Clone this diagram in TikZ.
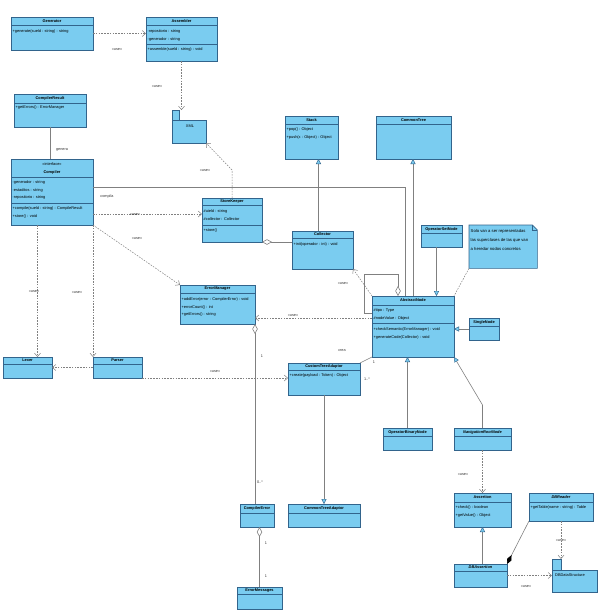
\documentclass[tikz,border=0pt]{standalone}
\usepackage{fontspec}
\setmainfont{Liberation Sans}
\usetikzlibrary{arrows.meta,calc}

\definecolor{boxfill}{RGB}{122,204,240}
\definecolor{boxborder}{RGB}{50,100,140}
\definecolor{linegray}{RGB}{128,128,128}

\tikzset{
	umlbox/.style={draw=boxborder, fill=boxfill, line width=0.6pt, inner sep=0pt, outer sep=0pt},
	boxline/.style={draw=boxborder, line width=0.5pt},
	umltitle/.style={font=\fontsize{3.9}{8}\selectfont\bfseries, align=center, inner sep=0pt},
	members/.style={font=\fontsize{3.9}{7.8}\selectfont, align=left, inner sep=0pt, anchor=north west},
	lbl/.style={font=\fontsize{3.8}{4.5}\selectfont, inner sep=0pt, text=black!80},
	assoc/.style={draw=linegray, line width=0.6pt},
	use/.style={draw=linegray, line width=0.5pt, dash pattern=on 1.6pt off 1.2pt, -{Straight Barb[length=3.5pt,width=6pt]}},
	inherit/.style={assoc, -{Triangle[length=5pt,width=5pt,fill=boxfill,color=boxborder,line width=0.4pt]}},
	aggr/.style={assoc, -{Diamond[length=10pt,width=5.5pt,fill=white,color=linegray]}},
	compos/.style={assoc, -{Diamond[length=10pt,width=4.5pt,fill=black,color=black]}},
	notelink/.style={draw=linegray, line width=0.5pt, dash pattern=on 1.6pt off 1.2pt}
}

% class box: name, x1, y1, x2, y2, header bottom, title
\newcommand{\umlclass}[7]{%
	\node[umlbox, anchor=north west, minimum width={#4-#2}, minimum height={#5-#3}] (#1) at (#2,#3) {};
	\draw[boxline] (#2,#6) -- (#4,#6);
	\node[umltitle] (#1-t) at ({(#2+#4)/2},{(#3+#6)/2}) {#7};
}

\begin{document}
\begin{tikzpicture}[x=1pt, y=-1pt]
	\useasboundingbox (0,0) rectangle (606,616);

	% classes
	\umlclass{gen}{11}{17}{93}{50}{25}{Generator}
	\node[members] (gen-m) at (12.5,29.3) {+generate(sueld : string) : string};

	\umlclass{asm}{146}{17}{217}{61}{25}{Assembler}
	\draw[boxline] (146,44) -- (217,44);
	\node[members] (asm-a) at (147.5,29.3) {-repositorio : string\\-generador : string};
	\node[members] (asm-m) at (147.5,47.3) {+assemble(sueld : string) : void};

	\umlclass{cr}{14}{94}{86}{127}{103}{CompilerResult}
	\node[members] (cr-m) at (15.5,105.3) {+getErrors() : ErrorManager};

	\umlclass{comp}{11}{159}{93}{225}{177}{{\mdseries «interface»}\\Compiler}
	\draw[boxline] (11,203) -- (93,203);
	\node[members] (comp-a) at (12.5,180.3) {-generador : string\\-estaditos : string\\-repositorio : string};
	\node[members] (comp-m) at (12.5,206.3) {+compile(sueld : string) : CompileResult\\+store() : void};

	\umlclass{stack}{285}{116}{338}{159}{124}{Stack}
	\node[members] (stack-m) at (286.5,127.3) {+pop() : Object\\+push(x : Object) : Object};

	\umlclass{ct}{376}{116}{451}{159}{124}{CommonTree}

	\umlclass{sk}{202}{198}{262}{242}{205}{StoreKeeper}
	\draw[boxline] (202,225) -- (262,225);
	\node[members] (sk-a) at (203.5,209.3) {\#uield : string\\\#collector : Collector};
	\node[members] (sk-m) at (203.5,228.3) {+store()};

	\umlclass{coll}{292}{231}{353}{269}{238}{Collector}
	\node[members] (coll-m) at (293.5,242.3) {+init(operador : int) : void};

	\umlclass{em}{180}{285}{255}{324}{293}{ErrorManager}
	\node[members] (em-m) at (181.5,297.3) {+addError(error : CompilerError) : void\\+errorCount() : int\\+getErrors() : string};

	\umlclass{an}{372}{296}{454}{357}{305}{AbstractNode}
	\draw[boxline] (372,323) -- (454,323);
	\node[members] (an-a) at (373.5,308.3) {\#tipo : Type\\\#nodeValue : Object};
	\node[members] (an-m) at (373.5,327.3) {+checkSemantic(ErrorManager) : void\\+generateCode(Collector) : void};

	\umlclass{osn}{421}{225}{462}{247}{233}{OperatorSetNode}
	\umlclass{sn}{469}{318}{499}{340}{326}{SingleNode}
	\umlclass{lexer}{3}{357}{52}{378}{364}{Lexer}
	\umlclass{parser}{93}{357}{142}{378}{364}{Parser}

	\umlclass{cta}{288}{363}{360}{395}{370}{CustomTreeAdaptor}
	\node[members] (cta-m) at (289.5,373.3) {+create(payload : Token) : Object};

	\umlclass{ce}{240}{504}{274}{527}{513}{CompilerError}
	\umlclass{cmta}{288}{504}{360}{527}{513}{CommonTreeAdaptor}
	\umlclass{emsg}{237}{587}{282}{609}{594}{ErrorMessages}
	\umlclass{obn}{383}{428}{432}{450}{436}{OperatorBinaryNode}
	\umlclass{nrn}{454}{428}{511}{450}{436}{\itshape NavigationRootNode}

	\umlclass{assert}{454}{493}{511}{527}{502}{Assertion}
	\node[members] (assert-m) at (455.5,505.3) {+check() : boolean\\+getValue() : Object};

	\umlclass{dbr}{529}{493}{593}{521}{502}{\itshape DBReader}
	\node[members] (dbr-m) at (530.5,505.3) {+getTable(name : string) : Table};

	\umlclass{dba}{454}{564}{507}{587}{571}{\itshape DBAssertion}

	% packages
	\node[umlbox, anchor=north west, minimum width=7, minimum height=10] (xmltab) at (172,110) {};
	\node[umlbox, anchor=north west, minimum width=34, minimum height=23] (xml) at (172,120) {};
	\node[members, anchor=center] (xml-t) at (190,126) {XML};
	\node[umlbox, anchor=north west, minimum width=9, minimum height=11] (dbtab) at (552,559) {};
	\node[umlbox, anchor=north west, minimum width=45, minimum height=22] (dbds) at (552,570) {};
	\node[members, anchor=west] (dbds-t) at (555,575) {DBDataStructure};

	% note
	\node[anchor=north west, minimum width=68, minimum height=43, inner sep=0pt] (note) at (469,225) {};
	\filldraw[umlbox] (note.north west) -- ([xshift=-5pt]note.north east) -- ([yshift=-5pt]note.north east) -- (note.south east) -- (note.south west) -- cycle;
	\draw[boxline] ([xshift=-5pt]note.north east) |- ([yshift=-5pt]note.north east);
	\node[members, font=\fontsize{4.2}{9}\selectfont] (note-x) at (470.5,229) {Solo van a ser representadas\\las superclases de las que van\\a heredar nodos concretos};

	% connectors
	\coordinate (lx-in) at ([xshift=10pt]lexer.north);
	\coordinate (sk-in) at ([yshift=6pt]sk.west);
	\coordinate (an-em) at ([yshift=8.5pt]an.west);
	\coordinate (coll-up) at ([xshift=-4pt]coll.north);
	\coordinate (osn-down) at ([xshift=-5pt]osn.south);

	\draw[use] (gen.east) -- (gen.east -| asm.west);
	\draw[use] (asm.south) -- (asm.south |- xmltab.north);
	\draw[use] (sk.north) -- ++(0,-28) -- (xml.south east);
	\draw[assoc] (cr.south) -- (cr.south |- comp.north);
	\draw[use] (sk-in -| comp.east) -- (sk-in);
	\draw[use] (comp.south east) -- (em.north west);
	\draw[use] (lx-in |- comp.south) -- (lx-in);
	\draw[use] (comp.south east) -- (parser.north west);
	\draw[use] (parser.west) -- (lexer.east);
	\draw[use] (parser.south east) -- (parser.south east -| cta.west);
	\draw[assoc] ([yshift=5pt]comp.east) -| ([xshift=-8pt]an.north);
	\draw[inherit] (an.north) -- (an.north |- ct.south);
	\draw[inherit] (coll-up) -- (coll-up |- stack.south);
	\draw[aggr] (coll.west |- sk.south east) -- (sk.south east);
	\draw[use] (an.north west) -- (coll.south east);
	\draw[aggr] ([yshift=13.5pt]an.west) -- ++(-8,0) -- ++(0,-39) -| ([xshift=-15pt]an.north);
	\draw[use] (an-em) -- (an-em -| em.east);
	\draw[assoc] (cta.north east) -- (an.south west);
	\draw[inherit] (cta.south) -- (cmta.north);
	\draw[aggr] (ce.north -| em.south east) -- (em.south east);
	\draw[aggr] (emsg.north) -- (emsg.north |- ce.south);
	\draw[inherit] (osn-down) -- (osn-down |- an.north);
	\draw[notelink] (note.south west) -- (an.north east);
	\draw[inherit] (sn.west) -- (sn.west -| an.east);
	\draw[inherit] (obn.north) -- (obn.north |- an.south);
	\draw[inherit] (nrn.north) -- ++(0,-23) -- (an.south east);
	\draw[use] (nrn.south) -- (assert.north);
	\draw[inherit] (dba.north -| assert.south) -- (assert.south);
	\draw[compos] (dbr.south west) -- (dba.north east);
	\draw[use] (dbr.south) -- (dbr.south |- dbtab.north);
	\draw[use] (dba.east) -- (dba.east -| dbds.west);

	% labels
	\node[lbl] (l-gen) at (117,49) {«use»};
	\node[lbl] (l-asm) at (157,86) {«use»};
	\node[lbl] (l-sk) at (205,170) {«use»};
	\node[lbl] (l-genera) at (62,150) {genera};
	\node[lbl] (l-compila) at (107,197) {compila};
	\node[lbl] (l-csk) at (135,214) {«use»};
	\node[lbl] (l-cem) at (137,238) {«use»};
	\node[lbl] (l-clx) at (34,291) {«use»};
	\node[lbl] (l-cpa) at (77,292) {«use»};
	\node[lbl] (l-pcta) at (215,371) {«use»};
	\node[lbl] (l-acoll) at (343,283) {«use»};
	\node[lbl] (l-aem) at (293,315) {«use»};
	\node[lbl] (l-crea) at (342,350) {crea};
	\node[lbl] (l-an1) at (374,362) {1};
	\node[lbl] (l-cta1) at (367,379) {1..*};
	\node[lbl] (l-em1) at (262,356) {1};
	\node[lbl] (l-ce0) at (260,482) {0..*};
	\node[lbl] (l-ce1) at (266,543) {1};
	\node[lbl] (l-emsg1) at (266,576) {1};
	\node[lbl] (l-nrn) at (463,474) {«use»};
	\node[lbl] (l-dbr) at (561,540) {«use»};
	\node[lbl] (l-dba) at (526,586) {«use»};
\end{tikzpicture}
\end{document}
